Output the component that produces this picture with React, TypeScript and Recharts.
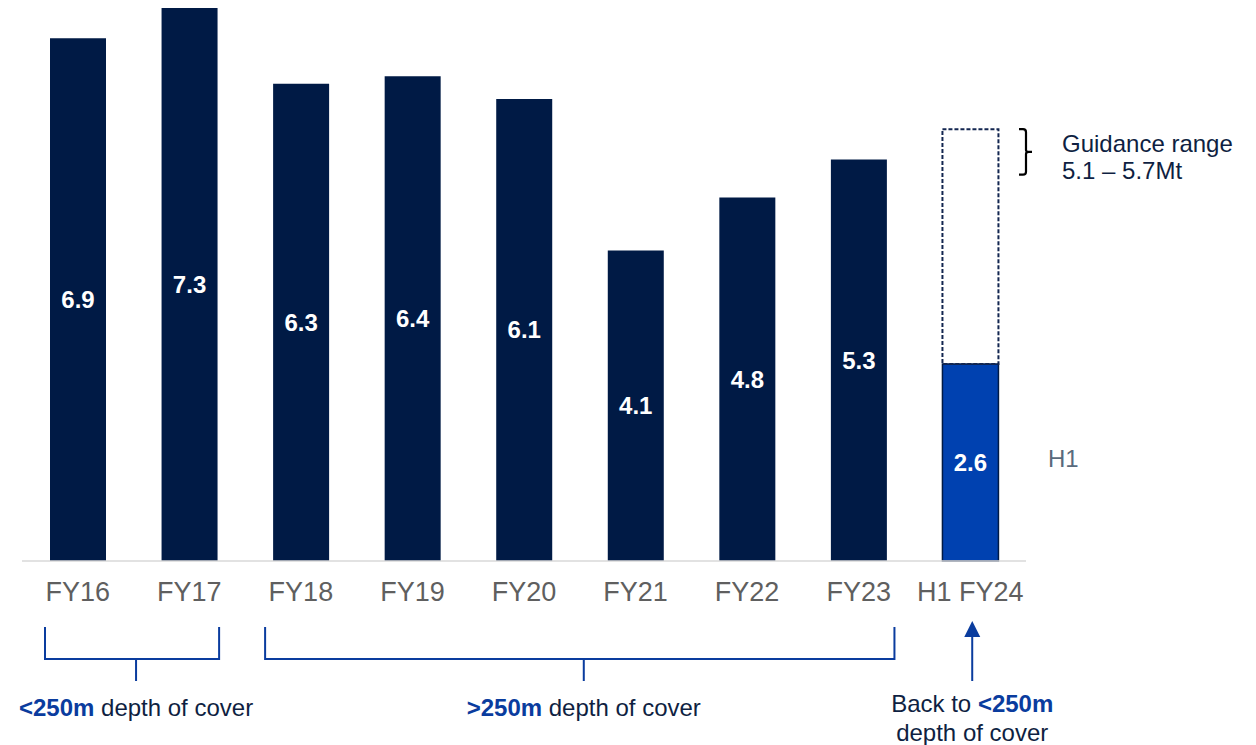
import { BarChart, Bar, XAxis, YAxis, Cell, LabelList, ReferenceArea } from "recharts";

const categories = ["FY16", "FY17", "FY18", "FY19", "FY20", "FY21", "FY22", "FY23", "H1 FY24"];
const production = [6.9, 7.3, 6.3, 6.4, 6.1, 4.1, 4.8, 5.3, 2.6];
const guidanceLow = 5.1;
const guidanceHigh = 5.7;

const NAVY = "#001a45";
const BLUE = "#0041b0";
const LINE_BLUE = "#0a3c9e";
const TEXT_NAVY = "#0f1f42";

const lastIdx = categories.length - 1;

const data = categories.map((name, i) => ({
  name,
  actual: production[i],
  remaining: i === lastIdx ? +(guidanceHigh - production[i]).toFixed(2) : 0,
}));

// bracket under a group of years, with caption
const groupBracket = (insetL: number, insetR: number, label: string) => (props: any) => {
  const { x, y, width, height } = props;
  const bottom = y + height;
  const left = x + insetL;
  const right = x + width - insetR;
  const mid = (left + right) / 2 + 4;
  return (
    <g>
      <path
        d={`M ${left} ${bottom + 66} V ${bottom + 98} H ${right} V ${bottom + 66} M ${mid} ${bottom + 98} V ${bottom + 120}`}
        stroke={LINE_BLUE}
        strokeWidth={2}
        fill="none"
      />
      <text x={mid} y={bottom + 155} textAnchor="middle" fontSize={24}>
        <tspan fill={LINE_BLUE} fontWeight="bold">{label}</tspan>
        <tspan fill={TEXT_NAVY}> depth of cover</tspan>
      </text>
    </g>
  );
};

const arrowNote = (props: any) => {
  const { x, y, width, height } = props;
  const bottom = y + height;
  const cx = x + width / 2 + 2;
  return (
    <g>
      <line x1={cx} y1={bottom + 120} x2={cx} y2={bottom + 72} stroke={LINE_BLUE} strokeWidth={2} />
      <polygon points={`${cx},${bottom + 60} ${cx - 8},${bottom + 76} ${cx + 8},${bottom + 76}`} fill={LINE_BLUE} />
      <text x={cx} y={bottom + 151} textAnchor="middle" fontSize={24}>
        <tspan fill={TEXT_NAVY}>Back to </tspan>
        <tspan fill={LINE_BLUE} fontWeight="bold">&lt;250m</tspan>
      </text>
      <text x={cx} y={bottom + 180} textAnchor="middle" fontSize={24} fill={TEXT_NAVY}>
        depth of cover
      </text>
    </g>
  );
};

const guidanceNote = (props: any) => {
  const { x, y, width, height } = props;
  const xr = x + width;
  const top = y;
  const bot = y + height;
  const mid = (top + bot) / 2;
  return (
    <g>
      <path
        d={`M ${xr - 7} ${top} H ${xr - 3} Q ${xr} ${top} ${xr} ${top + 3} V ${mid - 2} Q ${xr} ${mid} ${xr + 3} ${mid} H ${xr + 6} M ${xr + 3} ${mid} Q ${xr} ${mid} ${xr} ${mid + 2} V ${bot - 3} Q ${xr} ${bot} ${xr - 3} ${bot} H ${xr - 7}`}
        stroke="#000"
        strokeWidth={2.2}
        fill="none"
      />
      <text x={xr + 36} y={mid} fontSize={24} fill={TEXT_NAVY}>Guidance range</text>
      <text x={xr + 36} y={mid + 27} fontSize={24} fill={TEXT_NAVY}>
        {`${guidanceLow} – ${guidanceHigh}Mt`}
      </text>
    </g>
  );
};

const h1Note = (props: any) => {
  const { x, y, width, height } = props;
  return (
    <text x={x + width + 22} y={y + height / 2 + 4} fontSize={24} fill="#596a7c">
      H1
    </text>
  );
};

export default function App() {
  return (
    <div style={{ position: "absolute", left: 0, top: 0, width: 1256, height: 745, background: "#fff", fontFamily: "'Liberation Sans', Arial, sans-serif" }}>
      <BarChart width={1256} height={745} data={data} margin={{ top: 8, right: 230, bottom: 124, left: 22 }}>
        <XAxis
          dataKey="name"
          interval={0}
          height={60}
          tickLine={false}
          tickSize={0}
          tickMargin={21}
          axisLine={{ stroke: "#d9d9d9", strokeWidth: 1.5 }}
          tick={{ fill: "#5f5f5f", fontSize: 27 }}
        />
        <YAxis hide domain={[0, 7.3]} />
        <Bar dataKey="actual" stackId="a" barSize={56} isAnimationActive={false}>
          {data.map((d, i) => (
            <Cell
              key={d.name}
              fill={i === lastIdx ? BLUE : NAVY}
              stroke={i === lastIdx ? NAVY : "none"}
              strokeWidth={i === lastIdx ? 1.5 : 0}
            />
          ))}
          <LabelList
            dataKey="actual"
            position="center"
            fill="#fff"
            fontSize={24}
            fontWeight="bold"
            formatter={(v: any) => Number(v).toFixed(1)}
          />
        </Bar>
        <Bar
          dataKey="remaining"
          stackId="a"
          barSize={56}
          fill="none"
          stroke="#132650"
          strokeWidth={2}
          strokeDasharray="4 2"
          isAnimationActive={false}
        />
        <ReferenceArea x1="FY16" x2="FY17" ifOverflow="visible" shape={groupBracket(23, 26, "<250m")} />
        <ReferenceArea x1="FY18" x2="FY23" ifOverflow="visible" shape={groupBracket(20, 20, ">250m")} />
        <ReferenceArea x1="H1 FY24" x2="H1 FY24" ifOverflow="visible" shape={arrowNote} />
        <ReferenceArea y1={guidanceLow} y2={guidanceHigh} ifOverflow="visible" shape={guidanceNote} />
        <ReferenceArea x1="H1 FY24" x2="H1 FY24" y1={0} y2={production[lastIdx]} ifOverflow="visible" shape={h1Note} />
      </BarChart>
    </div>
  );
}
